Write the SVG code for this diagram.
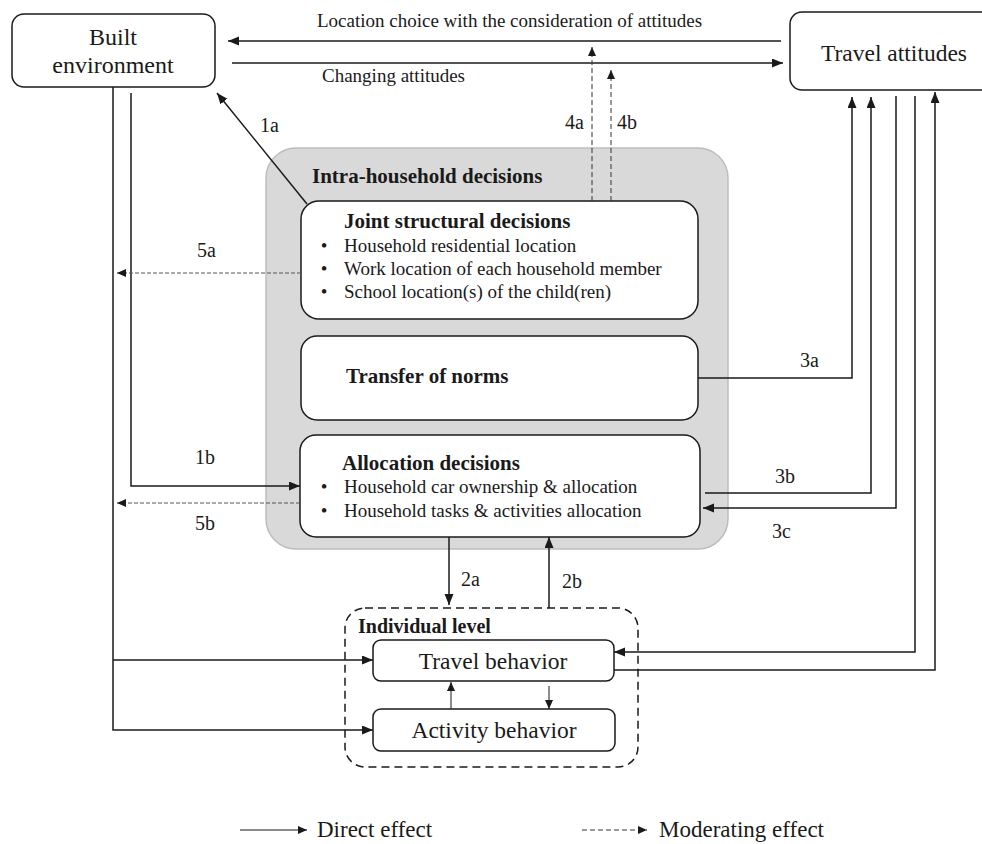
<svg xmlns="http://www.w3.org/2000/svg" width="982" height="844" viewBox="0 0 982 844">
<defs>
<marker id="ah" markerUnits="userSpaceOnUse" markerWidth="12" markerHeight="10" refX="11" refY="4.5" orient="auto">
<path d="M0,0 L11,4.5 L0,9 z" fill="#1a1a1a"/>
</marker>
<marker id="ahs" markerUnits="userSpaceOnUse" markerWidth="10" markerHeight="9" refX="9" refY="4" orient="auto">
<path d="M0,0 L9,4 L0,8 z" fill="#1a1a1a"/>
</marker>
<style>
text{font-family:"Liberation Serif","Times New Roman",serif;fill:#1a1a1a}
.box{fill:#fff;stroke:#1a1a1a;stroke-width:1.5}
.b{font-weight:bold;font-size:21px}
.li{font-size:19px}
.lab{font-size:20px}
.solid{fill:none;stroke:#1a1a1a;stroke-width:1.5}
.thin{fill:none;stroke:#1a1a1a;stroke-width:1}
.dash{fill:none;stroke:#333;stroke-width:1;stroke-dasharray:5,3}
.dash2{fill:none;stroke:#555;stroke-width:1;stroke-dasharray:4,2}
</style>
</defs>
<rect width="982" height="844" fill="#fff"/>

<g id="intra-household">
<rect x="266" y="148" width="462" height="401" rx="30" fill="#d9d9d9" stroke="#bdbdbd" stroke-width="1.5"/>
<text x="312" y="183" class="b">Intra-household decisions</text>
</g>

<g id="built-environment">
<rect class="box" x="12" y="14" width="203" height="73" rx="12"/>
<text x="113" y="45" font-size="24" text-anchor="middle">Built</text>
<text x="113" y="73" font-size="24" text-anchor="middle">environment</text>
</g>

<g id="travel-attitudes">
<rect class="box" x="790" y="12" width="230" height="78" rx="12"/>
<text x="894" y="61" font-size="23.5" text-anchor="middle">Travel attitudes</text>
</g>

<g id="joint-structural">
<rect class="box" x="301" y="201" width="397" height="118" rx="18"/>
<text x="344" y="228" class="b">Joint structural decisions</text>
<text x="324" y="252" class="li" text-anchor="middle">•</text>
<text x="344" y="252" class="li">Household residential location</text>
<text x="324" y="275" class="li" text-anchor="middle">•</text>
<text x="344" y="275" class="li">Work location of each household member</text>
<text x="324" y="298" class="li" text-anchor="middle">•</text>
<text x="344" y="298" class="li">School location(s) of the child(ren)</text>
</g>

<g id="transfer-norms">
<rect class="box" x="301" y="336" width="397" height="84" rx="16"/>
<text x="346" y="383" class="b">Transfer of norms</text>
</g>

<g id="allocation">
<rect class="box" x="300" y="435" width="400" height="102" rx="16"/>
<text x="342" y="470" class="b">Allocation decisions</text>
<text x="324" y="493" class="li" text-anchor="middle">•</text>
<text x="344" y="493" class="li">Household car ownership &amp; allocation</text>
<text x="324" y="517" class="li" text-anchor="middle">•</text>
<text x="344" y="517" class="li">Household tasks &amp; activities allocation</text>
</g>

<g id="individual-level">
<rect x="345" y="608" width="293" height="159" rx="20" fill="none" stroke="#1a1a1a" stroke-width="1.5" stroke-dasharray="8,5"/>
<text x="358" y="633" font-size="20" font-weight="bold">Individual level</text>
</g>

<g id="travel-behavior">
<rect class="box" x="373" y="640" width="241" height="41" rx="8"/>
<text x="493" y="669" font-size="23.5" text-anchor="middle">Travel behavior</text>
</g>

<g id="activity-behavior">
<rect class="box" x="373" y="709" width="242" height="42" rx="8"/>
<text x="494" y="738" font-size="23.5" text-anchor="middle">Activity behavior</text>
</g>

<g id="connectors">
<!-- top -->
<line class="solid" x1="781" y1="41" x2="228" y2="41" marker-end="url(#ah)"/>
<line class="solid" x1="232" y1="63" x2="783" y2="63" marker-end="url(#ah)"/>
<!-- 1a -->
<line class="solid" x1="307" y1="204" x2="217" y2="93" marker-end="url(#ah)"/>
<!-- 4a 4b -->
<line class="dash" x1="592" y1="201" x2="592" y2="47" marker-end="url(#ahs)"/>
<line class="dash" x1="611" y1="201" x2="611" y2="70" marker-end="url(#ahs)"/>
<!-- built env verticals -->
<polyline class="solid" points="113,87 113,730 373,730" marker-end="url(#ah)"/>
<line class="solid" x1="113" y1="660" x2="373" y2="660" marker-end="url(#ah)"/>
<polyline class="solid" points="131,93 131,486 300,486" marker-end="url(#ah)"/>
<!-- 5a 5b -->
<line class="dash2" x1="301" y1="273" x2="117" y2="273" marker-end="url(#ahs)"/>
<line class="dash2" x1="300" y1="503" x2="117" y2="503" marker-end="url(#ahs)"/>
<!-- 3a 3b 3c -->
<polyline class="solid" points="698,378 852,378 852,97" marker-end="url(#ah)"/>
<polyline class="solid" points="705,493 871,493 871,97" marker-end="url(#ah)"/>
<polyline class="solid" points="896,96 896,508 703,508" marker-end="url(#ah)"/>
<!-- travel behavior to/from attitudes -->
<polyline class="solid" points="915,96 915,652 614,652" marker-end="url(#ah)"/>
<polyline class="solid" points="614,670 935,670 935,92" marker-end="url(#ah)"/>
<!-- 2a 2b -->
<line class="solid" x1="449" y1="537" x2="449" y2="605" marker-end="url(#ah)"/>
<line class="solid" x1="549" y1="608" x2="549" y2="537" marker-end="url(#ah)"/>
<!-- travel <-> activity -->
<line class="thin" x1="451" y1="709" x2="451" y2="682" marker-end="url(#ahs)"/>
<line class="thin" x1="549" y1="686" x2="549" y2="709" marker-end="url(#ahs)"/>
</g>

<g id="labels">
<text x="317" y="27" font-size="19">Location choice with the consideration of attitudes</text>
<text x="322" y="82" font-size="19">Changing attitudes</text>
<text x="260" y="132" class="lab">1a</text>
<text x="565" y="129" class="lab">4a</text>
<text x="617" y="129" class="lab">4b</text>
<text x="197" y="257" class="lab">5a</text>
<text x="195" y="464" class="lab">1b</text>
<text x="195" y="530" class="lab">5b</text>
<text x="800" y="367" class="lab">3a</text>
<text x="775" y="483" class="lab">3b</text>
<text x="772" y="538" class="lab">3c</text>
<text x="461" y="586" class="lab">2a</text>
<text x="562" y="588" class="lab">2b</text>
</g>

<g id="legend">
<line class="thin" x1="240" y1="830" x2="307" y2="830" marker-end="url(#ahs)"/>
<text x="317" y="837" font-size="23">Direct effect</text>
<line class="dash" x1="582" y1="830" x2="647" y2="830" marker-end="url(#ahs)"/>
<text x="659" y="837" font-size="23">Moderating effect</text>
</g>
</svg>
